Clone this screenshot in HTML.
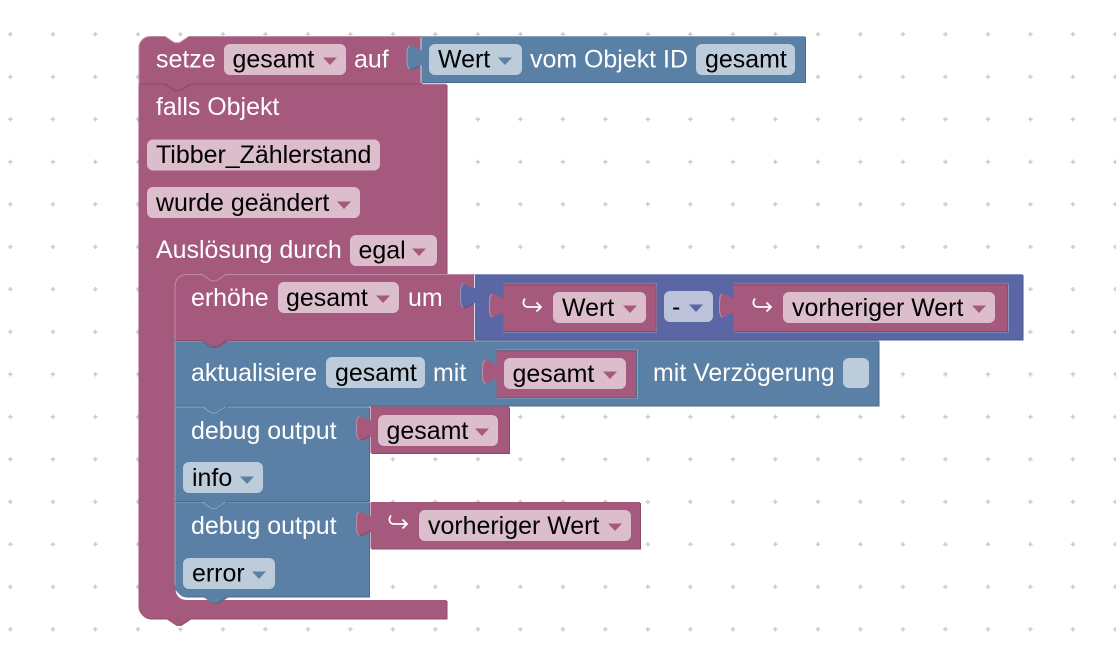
<!DOCTYPE html>
<html><head><meta charset="utf-8"><style>
html,body{margin:0;padding:0;background:#fff;width:1116px;height:666px;overflow:hidden}
svg{display:block}
text{font-family:"Liberation Sans",sans-serif;font-size:24.95px}
.w{fill:#fff}.k{fill:#000}
.fp{fill:#DBBDCB}.fb{fill:#BDCCDB}.fm{fill:#BDC2DB}
.tp{fill:#A55A7D}.tb{fill:#5B80A5}.tm{fill:#5B67A5}
.P{fill:#A55A7D}.B{fill:#5B80A5}.M{fill:#5B67A5}
.Pd{fill:#8a4c69}.Bd{fill:#4d6b8a}.Md{fill:#4d568a}
.Pl{fill:none;stroke:#C08CA5;stroke-width:1}.Bl{fill:none;stroke:#8CA6C0;stroke-width:1}.Ml{fill:none;stroke:#8C95C0;stroke-width:1}
</style></head><body>
<svg width="1116" height="666" viewBox="0 0 1116 666" xmlns="http://www.w3.org/2000/svg">
<defs><pattern id="g" patternUnits="userSpaceOnUse" x="-10.85" y="13.05" width="42.5" height="42.5">
<path d="M19,21.25h4.5M21.25,19v4.5" stroke="#ccc" stroke-width="1.5" fill="none"/></pattern>
<path id="c" d="M138.500,84H446.500V274H230V290H174.500V588a12,12 0 0 0 12,12H446.500V618.500H190l-9.600,6.400h-4.800l-9.600,-6.400H150.500a12,12 0 0 1 -12,-12Z"/>
<path id="d2" d="M174.500,501.500H369V596.500H227l-9.600,6.400h-4.800l-9.600,-6.400H186.500a12,12 0 0 1 -12,-12Z"/>
<path id="d1" d="M174.500,406.500H369V501H227l-9.600,6.400h-4.800l-9.600,-6.400H174.500Z"/>
<path id="ak" d="M174.500,340.500H878.500V405.500H227l-9.600,6.400h-4.800l-9.600,-6.400H174.500Z"/>
<path id="er" d="M174.500,286a12,12 0 0 1 12,-12H202l9.600,6.400h4.800l9.600,-6.400H474V340H227l-9.600,6.400h-4.800l-9.600,-6.400H174.500Z"/>
<path id="se" d="M138.500,48a12,12 0 0 1 12,-12H165l9.600,6.400h4.800l9.600,-6.400H421V83.500H190l-9.600,6.400h-4.800l-9.600,-6.400H138.500Z"/>
<path id="v0" d="M421,36H805V82H421V65c-4,0 -6,4 -11,4c-3,0 -3,-7 -3,-11.500s0,-11.500 3,-11.500c5,0 7,4 11,4Z"/>
<path id="m" d="M474.500,274H1022.500V339.500H474.500V303c-4,0 -6,4 -11,4c-3,0 -3,-7 -3,-11.500s0,-11.500 3,-11.500c5,0 7,4 11,4Z"/>
<path id="v1" d="M503.500,284H656V331.500H503.500V313c-4,0 -6,4 -11,4c-3,0 -3,-7 -3,-11.500s0,-11.500 3,-11.500c5,0 7,4 11,4Z"/>
<path id="v2" d="M733.500,284H1008V331.500H733.500V313c-4,0 -6,4 -11,4c-3,0 -3,-7 -3,-11.500s0,-11.500 3,-11.500c5,0 7,4 11,4Z"/>
<path id="v3" d="M496.500,350H637V398H496.500V379c-4,0 -6,4 -11,4c-3,0 -3,-7 -3,-11.500s0,-11.500 3,-11.500c5,0 7,4 11,4Z"/>
<path id="v4" d="M370.500,406.500H509V453H370.500V435.500c-4,0 -6,4 -11,4c-3,0 -3,-7 -3,-11.500s0,-11.500 3,-11.500c5,0 7,4 11,4Z"/>
<path id="v5" d="M370.500,502H640V548.500H370.500V531c-4,0 -6,4 -11,4c-3,0 -3,-7 -3,-11.500s0,-11.500 3,-11.500c5,0 7,4 11,4Z"/>
<g id="ic" fill="none" stroke="#fff" stroke-width="1.800"><path d="M391,515.500c-3,4 -1.500,8.500 3,8.500H407"/><path d="M402.500,519.500l4.500,4.500l-4.500,4.500"/></g>
</defs>
<rect width="1116" height="666" fill="url(#g)"/>

<use href="#c" class="Pd" transform="translate(1,1)"/><use href="#c" class="P"/>
<path class="Pl" d="M139,84H446"/>

<use href="#d2" class="Bd" transform="translate(1,1)"/><use href="#d2" class="B"/>
<path class="Bl" d="M175,585V502H369"/>
<use href="#d1" class="Bd" transform="translate(1,1)"/><use href="#d1" class="B"/>
<path class="Bl" d="M175,501V407H369"/>
<use href="#ak" class="Bd" transform="translate(1,1)"/><use href="#ak" class="B"/>
<path class="Bl" d="M175,406V341H878"/>
<use href="#er" class="Pd" transform="translate(1,1)"/><use href="#er" class="P"/>
<path class="Pl" d="M175,340V286a11.500,11.500 0 0 1 11.500,-11.500H202l9.600,6.400h4.800l9.600,-6.400H473"/>
<use href="#se" class="Pd" transform="translate(1,1)"/><use href="#se" class="P"/>
<path class="Pl" d="M139,83V48a11.500,11.500 0 0 1 11.500,-11.500H165l9.600,6.400h4.800l9.600,-6.400H420"/>

<!-- notch lines -->
<path d="M165,84.500l9.600,6.400h4.800l9.600,-6.400" fill="none" stroke="#8a4c69"/>
<path d="M202,341l9.600,6.400h4.800l9.600,-6.400" fill="none" stroke="#8a4c69"/>
<path d="M202,406.500l9.600,6.400h4.800l9.600,-6.400" fill="none" stroke="#8CA6C0"/>
<path d="M202,502l9.600,6.400h4.800l9.600,-6.400" fill="none" stroke="#8CA6C0"/>

<use href="#v0" class="Bd" transform="translate(1,1)"/><use href="#v0" class="B"/>
<path d="M421,36.500H805" class="Bl"/>
<path d="M410,69c-3,0 -3,-7 -3,-11.500s0,-11.500 3,-11.500" class="Bl"/>
<path d="M421,37V50M421,65V83" stroke="#c9d6e3" stroke-width="1" fill="none"/>

<use href="#m" class="Md" transform="translate(1,1)"/><use href="#m" class="M"/>
<path d="M474.500,274.500H1022" class="Ml"/>
<path d="M463.500,307c-3,0 -3,-7 -3,-11.500s0,-11.500 3,-11.500" class="Ml"/>
<path d="M474.500,275V288M474.500,303V340" stroke="#d6d9e8" stroke-width="1" fill="none"/>

<path d="M503.500,284H656.500V332H503.500" fill="none" stroke="#8C95C0" stroke-width="1"/>
<use href="#v1" class="P"/>
<path d="M492.500,317c-3,0 -3,-7 -3,-11.500s0,-11.500 3,-11.500" class="Pl"/>
<path d="M504,285H655M504,331.500H656V285" fill="none" stroke="#8a4c69" stroke-width="1"/>
<path d="M733.500,284H1008.500V332H733.500" fill="none" stroke="#8C95C0" stroke-width="1"/>
<use href="#v2" class="P"/>
<path d="M722.500,317c-3,0 -3,-7 -3,-11.500s0,-11.500 3,-11.500" class="Pl"/>
<path d="M734,285H1007M734,331.500H1007.500V285" fill="none" stroke="#8a4c69" stroke-width="1"/>
<path d="M496.500,350H637.500V398H496.500" fill="none" stroke="#8CA6C0" stroke-width="1"/>
<use href="#v3" class="P"/>
<path d="M485.500,383c-3,0 -3,-7 -3,-11.500s0,-11.500 3,-11.500" class="Pl"/>
<path d="M497,351H636M497,397.500H636.500V351" fill="none" stroke="#4d6b8a" stroke-width="1"/>
<use href="#v4" class="Pd" transform="translate(1,1)"/><use href="#v4" class="P"/>
<path d="M359.500,439.500c-3,0 -3,-7 -3,-11.500s0,-11.500 3,-11.500" class="Pl"/>
<use href="#v5" class="Pd" transform="translate(1,1)"/><use href="#v5" class="P"/>
<path d="M359.500,535c-3,0 -3,-7 -3,-11.500s0,-11.500 3,-11.500" class="Pl"/>

<!-- row 1 -->
<text class="w" x="156" y="67.500">setze</text>
<rect class="fp" x="224" y="44" width="122" height="31" rx="6"/>
<text class="k" x="232.500" y="67.500">gesamt</text><path class="tp" d="M323,57.500h14l-7,7.500z"/>
<text class="w" x="354" y="67.500">auf</text>
<rect class="fb" x="429" y="44" width="93" height="31" rx="6"/>
<text class="k" x="438" y="67.500">Wert</text><path class="tb" d="M498,57.500h14l-7,7.500z"/>
<text class="w" x="530" y="67.500">vom Objekt ID</text>
<rect class="fb" x="696" y="44" width="99" height="31" rx="6"/>
<text class="k" x="705" y="67.500">gesamt</text>

<text class="w" x="156" y="115">falls Objekt</text>
<rect class="fp" x="147" y="139.500" width="233" height="31" rx="6"/>
<text class="k" x="156" y="163">Tibber_Zählerstand</text>
<rect class="fp" x="147" y="187" width="213" height="31" rx="6"/>
<text class="k" x="156" y="211">wurde geändert</text><path class="tp" d="M337,201.500h14l-7,7.500z"/>
<text class="w" x="156" y="258">Auslösung durch</text>
<rect class="fp" x="350" y="235" width="87" height="31" rx="6"/>
<text class="k" x="358.500" y="258.500">egal</text><path class="tp" d="M412,248.500h14l-7,7.500z"/>

<!-- erhöhe -->
<text class="w" x="191" y="306">erhöhe</text>
<rect class="fp" x="278" y="282" width="121" height="31" rx="6"/>
<text class="k" x="286" y="306">gesamt</text><path class="tp" d="M376,295.500h14l-7,7.500z"/>
<text class="w" x="408" y="306">um</text>
<use href="#ic" transform="translate(134,-217)"/>
<rect class="fp" x="553" y="292" width="93" height="31" rx="6"/>
<text class="k" x="562" y="316">Wert</text><path class="tp" d="M623,305.500h14l-7,7.500z"/>
<rect class="fm" x="664" y="291" width="49" height="31" rx="6"/>
<text class="k" x="672" y="315">-</text><path class="tm" d="M689,304.500h14l-7,7.500z"/>
<use href="#ic" transform="translate(364,-217)"/>
<rect class="fp" x="783" y="292" width="212" height="31" rx="6"/>
<text class="k" x="792" y="316">vorheriger Wert</text><path class="tp" d="M972,305.500h14l-7,7.500z"/>

<!-- aktualisiere -->
<text class="w" x="191" y="381">aktualisiere</text>
<rect class="fb" x="326" y="357" width="99" height="31" rx="6"/>
<text class="k" x="335" y="381">gesamt</text>
<text class="w" x="433" y="381">mit</text>
<rect class="fp" x="504" y="358" width="122" height="31" rx="6"/>
<text class="k" x="512.500" y="382">gesamt</text><path class="tp" d="M603,371.500h14l-7,7.500z"/>
<text class="w" x="653" y="381">mit Verzögerung</text>
<rect class="fb" x="843" y="358" width="26" height="30" rx="6"/>

<!-- debug -->
<text class="w" x="191" y="439">debug output</text>
<rect class="fp" x="378" y="415" width="120" height="31" rx="6"/>
<text class="k" x="386.500" y="439">gesamt</text><path class="tp" d="M475,428.500h14l-7,7.500z"/>
<rect class="fb" x="183" y="462" width="80" height="31" rx="6"/>
<text class="k" x="192" y="486">info</text><path class="tb" d="M240,476.500h14l-7,7.500z"/>

<text class="w" x="191" y="534">debug output</text>
<use href="#ic"/>
<rect class="fp" x="419" y="510" width="212" height="31" rx="6"/>
<text class="k" x="428" y="534">vorheriger Wert</text><path class="tp" d="M608,523.500h14l-7,7.500z"/>
<rect class="fb" x="183" y="558" width="92" height="31" rx="6"/>
<text class="k" x="192" y="581.500">error</text><path class="tb" d="M252,571.500h14l-7,7.500z"/>
</svg>
</body></html>
